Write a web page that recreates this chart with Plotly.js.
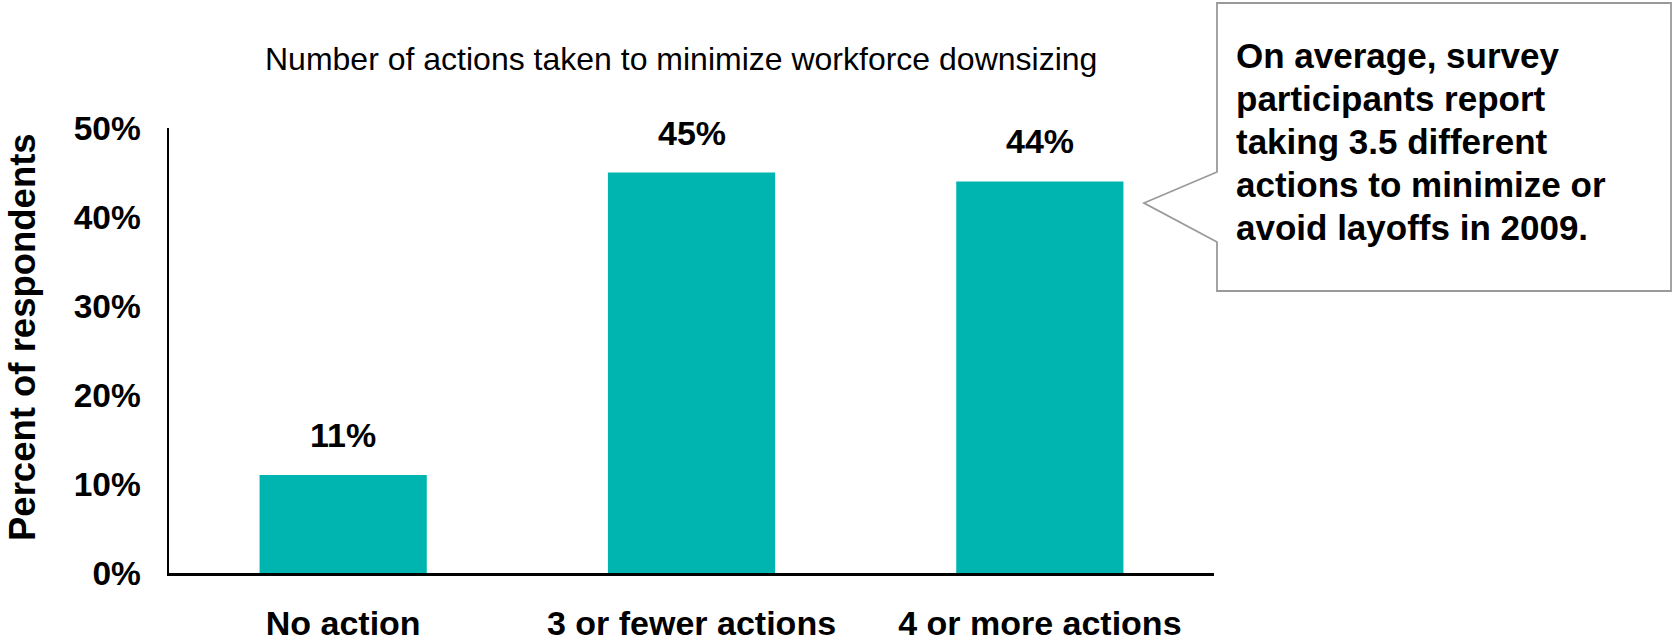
<!DOCTYPE html>
<html>
<head>
<meta charset="utf-8">
<script src="https://cdn.plot.ly/plotly-3.0.1.min.js"></script>
<style>
  html, body { margin: 0; padding: 0; background: #ffffff; }
  #chart { width: 1673px; height: 642px; }
</style>
</head>
<body>
<div id="chart"></div>
<script>
// ---- Data ----
const categories = ["No action", "3 or fewer actions", "4 or more actions"];
const percentValues = [11, 45, 44];
const valueLabels = ["11%", "45%", "44%"];
const yTickValues = [0, 10, 20, 30, 40, 50];
const yTickLabels = ["0%", "10%", "20%", "30%", "40%", "50%"];
const chartTitle = "Number of actions taken to minimize workforce downsizing";
const yAxisTitle = "Percent of respondents";
const calloutLines = [
  "On average, survey",
  "participants report",
  "taking 3.5 different",
  "actions to minimize or",
  "avoid layoffs in 2009."
];

// ---- Layout geometry (pixels) ----
const W = 1673, H = 642;
const plotL = 169, plotR = 1214, plotT = 128, plotB = 573;
const pw = plotR - plotL, ph = plotB - plotT;
const px = x => (x - plotL) / pw;
const py = y => (plotB - y) / ph;

const FONT = "Liberation Sans, Arial, sans-serif";
const barColor = "#00B5B0";

const trace = {
  type: "bar",
  x: categories,
  y: percentValues,
  marker: { color: barColor, line: { width: 0 } },
  hoverinfo: "skip"
};

const annotations = categories.map((c, i) => ({
  x: c, y: percentValues[i], xref: "x", yref: "y",
  text: valueLabels[i], showarrow: false,
  yanchor: "bottom", yshift: 19,
  font: { family: FONT, size: 34, color: "#000000", weight: "bold" }
}));

annotations.push({
  xref: "paper", yref: "paper",
  x: px(681), y: py(59),
  xanchor: "center", yanchor: "middle",
  text: chartTitle, showarrow: false,
  font: { family: FONT, size: 32, color: "#000000" }
});

annotations.push({
  xref: "paper", yref: "paper",
  x: px(22), y: py(337),
  xanchor: "center", yanchor: "middle",
  textangle: -90,
  text: "<b>" + yAxisTitle + "</b>", showarrow: false,
  font: { family: FONT, size: 36.5, color: "#000000" }
});

// callout text, one annotation per line
const calloutFirstLineY = 55, calloutLineGap = 43.2;
calloutLines.forEach((line, i) => {
  annotations.push({
    xref: "paper", yref: "paper",
    x: px(1234), y: py(calloutFirstLineY + i * calloutLineGap),
    xanchor: "left", yanchor: "middle", align: "left",
    text: "<b>" + line + "</b>", showarrow: false,
    font: { family: FONT, size: 35, color: "#000000" }
  });
});

const calloutPath =
  "M " + px(1217) + "," + py(3) +
  " L " + px(1671) + "," + py(3) +
  " L " + px(1671) + "," + py(291) +
  " L " + px(1217) + "," + py(291) +
  " L " + px(1217) + "," + py(242) +
  " L " + px(1144) + "," + py(203) +
  " L " + px(1217) + "," + py(172) + " Z";

const layout = {
  width: W, height: H,
  margin: { l: plotL, r: W - plotR, t: plotT, b: H - plotB, pad: 0 },
  paper_bgcolor: "#ffffff", plot_bgcolor: "#ffffff",
  showlegend: false,
  bargap: 0.52,
  font: { family: FONT, color: "#000000" },
  xaxis: {
    type: "category",
    showline: true, linecolor: "#000000", linewidth: 2.5,
    ticks: "", showgrid: false, zeroline: false,
    tickfont: { family: FONT, size: 34, color: "#000000", weight: "bold" },
    ticklabelstandoff: 19,
    fixedrange: true
  },
  yaxis: {
    range: [0, 50],
    tickvals: yTickValues, ticktext: yTickLabels,
    showline: true, linecolor: "#000000", linewidth: 2.5,
    ticks: "", showgrid: false, zeroline: false,
    tickfont: { family: FONT, size: 33.5, color: "#000000", weight: "bold" },
    ticklabelstandoff: 19,
    fixedrange: true
  },
  shapes: [{
    type: "path", xref: "paper", yref: "paper",
    path: calloutPath,
    fillcolor: "#ffffff",
    line: { color: "#9a9a9a", width: 1.8 }
  }],
  annotations: annotations
};

Plotly.newPlot("chart", [trace], layout, { staticPlot: true, displayModeBar: false });
</script>
</body>
</html>
